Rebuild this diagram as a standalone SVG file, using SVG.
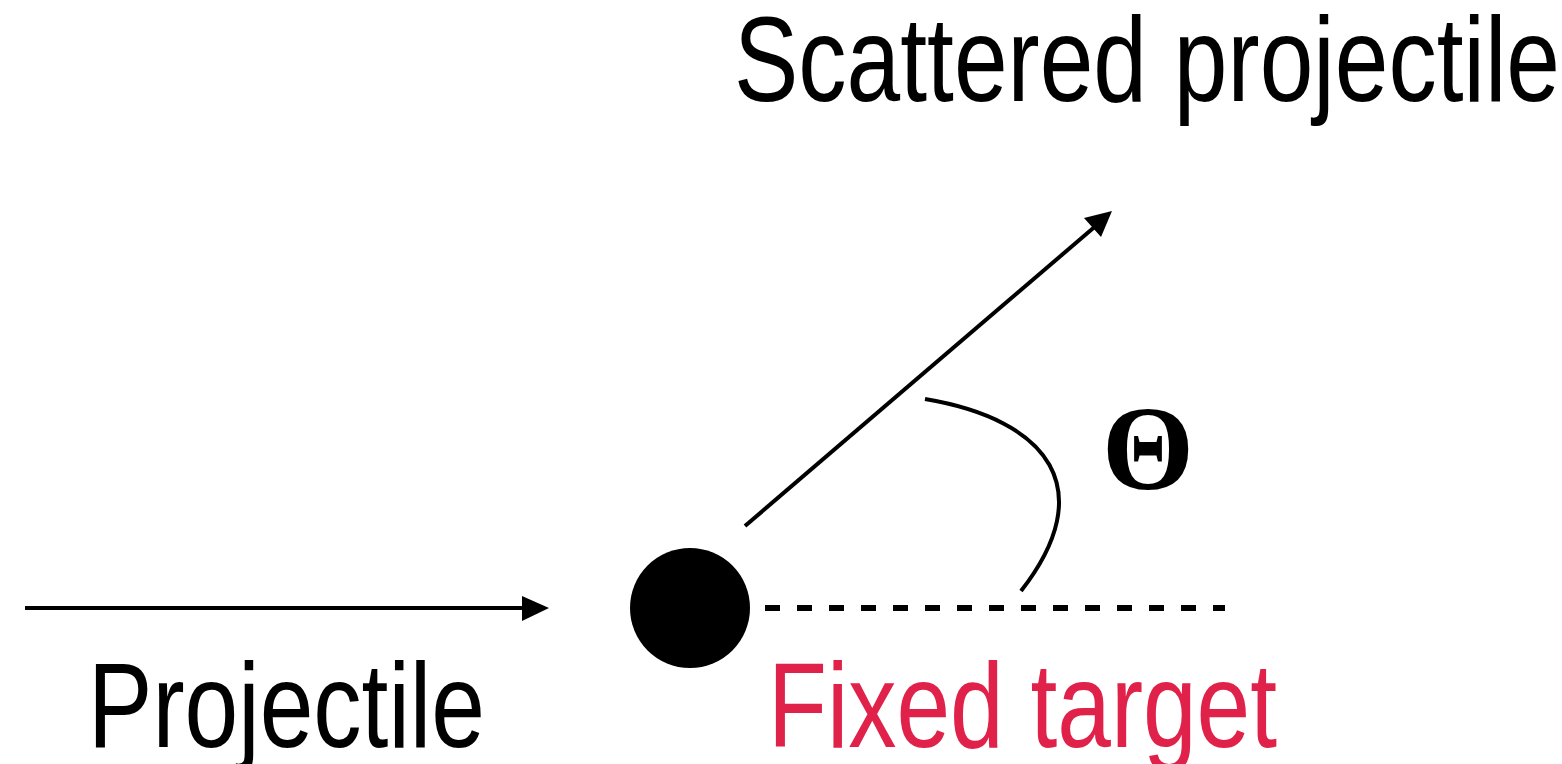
<svg xmlns="http://www.w3.org/2000/svg" width="1562" height="764" viewBox="0 0 1562 764">
<style>
.lbl{font-family:"Liberation Sans",Arial,sans-serif;font-size:120px;fill:#000}
.red{fill:#e0224a}
.ln{stroke:#000;stroke-width:4;fill:none}
.head{fill:#000;stroke:none}
</style>
<rect width="1562" height="764" fill="#fff"/>
<g id="connectors">
<line class="ln" x1="25" y1="608" x2="526" y2="608"/>
<polygon class="head" points="522,596 549,608 522,621"/>
<line class="ln" x1="745" y1="526" x2="1098" y2="224"/>
<polygon class="head" points="1084,218 1112,211 1101,237"/>
<line x1="765" y1="608" x2="1225" y2="608" stroke="#000" stroke-width="6" stroke-dasharray="15 17"/>
<path class="ln" d="M925,399 C1050,420 1100,490 1021,591"/>
</g>
<g id="target">
<circle cx="690" cy="608" r="60" fill="#000"/>
</g>
<g id="labels">
<text class="lbl" x="734" y="101" textLength="826" lengthAdjust="spacingAndGlyphs">Scattered projectile</text>
<text class="lbl" x="88" y="747" textLength="397" lengthAdjust="spacingAndGlyphs">Projectile</text>
<text class="lbl red" x="768" y="747" textLength="509" lengthAdjust="spacingAndGlyphs">Fixed target</text>
<text x="1102" y="489" textLength="92" lengthAdjust="spacingAndGlyphs" font-family="'Liberation Serif','Times New Roman',serif" font-weight="bold" font-size="120" fill="#000">Θ</text>
</g>
</svg>
